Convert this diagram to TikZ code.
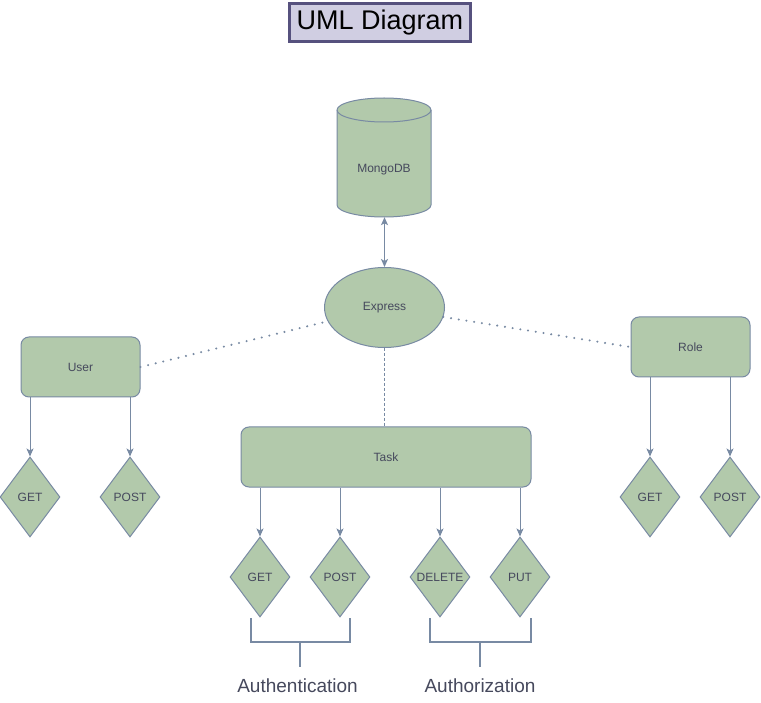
\documentclass[tikz,border=0pt]{standalone}
\usepackage{fontspec}
\setmainfont{Liberation Sans}
\usetikzlibrary{shapes.geometric,arrows.meta}
\definecolor{sagefill}{HTML}{B2C9AB}
\definecolor{sagedraw}{HTML}{788AA3}
\definecolor{sagetext}{HTML}{46495D}
\definecolor{titlefill}{HTML}{D0CEE2}
\definecolor{titledraw}{HTML}{56517E}
\begin{document}
\begin{tikzpicture}[x=1pt,y=1pt,
  base/.style={fill=sagefill, draw=sagedraw, line width=1pt, text=sagetext, font=\fontsize{12}{14}\selectfont, inner sep=0pt},
  box/.style={base, rectangle, rounded corners=8pt, minimum width=119pt, minimum height=60pt},
  dia/.style={base, diamond, minimum width=60pt, minimum height=80pt},
  arr/.style={draw=sagedraw, line width=1pt, -{Stealth[length=8pt,width=7pt,inset=2pt]}},
  dots/.style={draw=sagedraw, line width=2.3pt, line cap=round, dash pattern=on 0pt off 7.8pt},
  dsh/.style={draw=sagedraw, line width=1pt, dash pattern=on 3pt off 2pt},
  brk/.style={draw=sagedraw, line width=2pt},
  captext/.style={text=sagetext, font=\fontsize{19}{22}\selectfont, inner sep=0pt}
]
\useasboundingbox[fill=white] (0,0) rectangle (761,-703);

% title
\node[draw=titledraw, fill=titlefill, line width=3pt, minimum width=181pt, minimum height=38pt,
      inner sep=0pt, font=\fontsize{27}{32}\selectfont, text=black] (title) at (380,-22.5) {UML Diagram};

% MongoDB cylinder
\filldraw[fill=sagefill, draw=sagedraw, line width=1pt]
  (337,-110) -- (337,-205) arc (180:360:47 and 12) -- (431,-110) arc (0:180:47 and 12) -- cycle;
\draw[sagedraw, line width=1pt] (337,-110) arc (180:360:47 and 12);
\node[minimum width=94pt, minimum height=119pt, inner sep=0pt] (mongo) at (384,-157.5) {};
\node[text=sagetext, font=\fontsize{12}{14}\selectfont, inner sep=0pt] (mongolabel) at (384,-170) {MongoDB};

% Express
\node[base, ellipse, minimum width=120pt, minimum height=80pt] (express) at (384.5,-307.5) {Express};

% boxes
\node[box] (user) at (80.5,-367) {User};
\node[box] (role) at (690.5,-347) {Role};
\node[box, minimum width=290pt] (task) at (386,-457) {Task};

% diamonds
\node[dia] (uget) at (30,-497) {GET};
\node[dia] (upost) at (130,-497) {POST};
\node[dia] (rget) at (650,-497) {GET};
\node[dia] (rpost) at (730,-497) {POST};
\node[dia] (tget) at (260,-577) {GET};
\node[dia] (tpost) at (340,-577) {POST};
\node[dia] (tdel) at (440,-577) {DELETE};
\node[dia] (tput) at (520,-577) {PUT};

% connectors
\draw[arr, {Stealth[length=8pt,width=7pt,inset=2pt]}-{Stealth[length=8pt,width=7pt,inset=2pt]}] (mongo.south -| express.north) -- (express.north);
\draw[dots] (user.east) -- (express);
\draw[dots] (express) -- (role.west);
\draw[dsh] (express.south) -- (express.south |- task.north);

\draw[arr] (user.south -| uget.north) -- (uget.north);
\draw[arr] (user.south -| upost.north) -- (upost.north);
\draw[arr] (role.south -| rget.north) -- (rget.north);
\draw[arr] (role.south -| rpost.north) -- (rpost.north);
\draw[arr] (task.south -| tget.north) -- (tget.north);
\draw[arr] (task.south -| tpost.north) -- (tpost.north);
\draw[arr] (task.south -| tdel.north) -- (tdel.north);
\draw[arr] (task.south -| tput.north) -- (tput.north);

% brackets
\draw[brk] (251,-618) -- (251,-642) -- (350,-642) -- (350,-618);
\draw[brk] (300,-642) -- (300,-667);
\draw[brk] (430,-618) -- (430,-642) -- (531,-642) -- (531,-618);
\draw[brk] (480,-642) -- (480,-667);

\node[captext] (authn) at (297.5,-686) {Authentication};
\node[captext] (authz) at (480,-686) {Authorization};
\end{tikzpicture}
\end{document}
